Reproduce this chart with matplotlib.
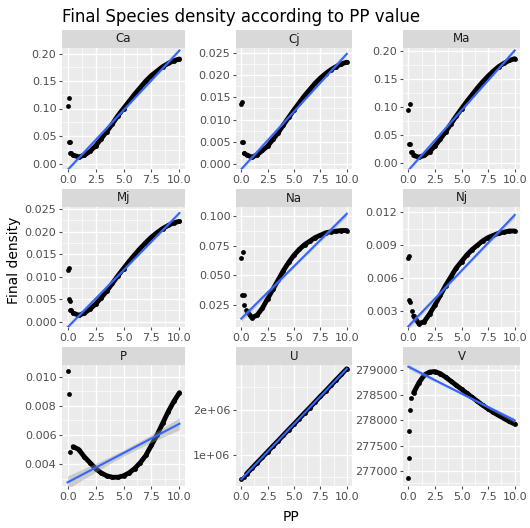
import numpy as np
import matplotlib
matplotlib.use("Agg")
import matplotlib.pyplot as plt

panels = ["Ca", "Cj", "Ma", "Mj", "Na", "Nj", "P", "U", "V"]
xs = [0.5, 1, 1.5, 2, 2.5, 3, 3.5, 4, 4.5, 5, 5.5, 6, 6.5, 7, 7.5, 8, 8.5, 9, 9.5, 10]
curves = {
 "Ca": [0.015,0.012,0.015,0.022,0.032,0.045,0.058,0.072,0.087,0.1,0.113,0.126,0.138,0.15,0.16,0.168,0.176,0.182,0.187,0.19],
 "Cj": [0.002,0.0015,0.002,0.003,0.004,0.0055,0.007,0.0088,0.0105,0.0122,0.0138,0.0154,0.0168,0.0182,0.0194,0.0204,0.0213,0.022,0.0226,0.023],
 "Ma": [0.014,0.011,0.014,0.021,0.031,0.043,0.056,0.07,0.084,0.097,0.11,0.122,0.134,0.145,0.155,0.164,0.172,0.178,0.183,0.186],
 "Mj": [0.0019,0.0014,0.0019,0.0028,0.0039,0.0053,0.0068,0.0085,0.0102,0.0118,0.0134,0.0149,0.0163,0.0176,0.0188,0.0198,0.0207,0.0214,0.022,0.0223],
 "Na": [0.02,0.014,0.016,0.022,0.03,0.038,0.046,0.054,0.061,0.067,0.072,0.076,0.079,0.082,0.084,0.086,0.087,0.0875,0.088,0.088],
 "Nj": [0.0025,0.0018,0.002,0.0027,0.0035,0.0044,0.0053,0.0061,0.0069,0.0075,0.0081,0.0086,0.009,0.0094,0.0097,0.0099,0.0101,0.0102,0.0103,0.0103],
 "P": [0.0052,0.005,0.0045,0.0041,0.0037,0.0034,0.0032,0.0031,0.0031,0.0032,0.0034,0.0037,0.0041,0.0046,0.0053,0.006,0.0068,0.0076,0.0083,0.0089],
 "U": [0.57e6,0.695e6,0.82e6,0.94e6,1.065e6,1.19e6,1.31e6,1.435e6,1.56e6,1.68e6,1.805e6,1.93e6,2.05e6,2.175e6,2.3e6,2.42e6,2.545e6,2.67e6,2.79e6,2.915e6],
 "V": [278550,278750,278900,278960,278970,278930,278860,278780,278700,278620,278540,278460,278380,278300,278230,278160,278100,278040,277980,277930],
}
early_x = {
 "Ca": [0,0.1,0.1,0.2,0.3,0.25], "Cj": [0,0.1,0.1,0.2,0.3,0.25], "Ma": [0,0.2,0.1,0.2,0.3,0.25],
 "Mj": [0,0.1,0.1,0.2,0.3,0.25], "Na": [0,0.2,0.1,0.3,0.25], "Nj": [0,0.1,0.1,0.2,0.3],
 "P": [0,0.1,0.25], "U": [0,0.25], "V": [0,0.05,0.1,0.15,0.25],
}
early_y = {
 "Ca": [0.105,0.12,0.04,0.04,0.02,0.02], "Cj": [0.0135,0.014,0.005,0.005,0.0025,0.0025],
 "Ma": [0.095,0.105,0.035,0.035,0.02,0.02], "Mj": [0.0115,0.012,0.005,0.0045,0.0025,0.0025],
 "Na": [0.065,0.07,0.033,0.033,0.025], "Nj": [0.0078,0.008,0.004,0.0038,0.003],
 "P": [0.0104,0.0088,0.0048], "U": [0.45e6,0.51e6], "V": [276850,277250,277800,278200,278450],
}
ylims = {"Ca": (-0.01,0.21), "Cj": (-0.0012,0.0262), "Ma": (-0.01,0.205), "Mj": (-0.0012,0.0255),
 "Na": (0.006,0.108), "Nj": (0.0015,0.0125), "P": (0.0025,0.0108), "U": (0.3e6,3.0e6), "V": (276700,279100)}
yticks = {"Ca": [0,0.05,0.1,0.15,0.2], "Cj": [0,0.005,0.01,0.015,0.02,0.025], "Ma": [0,0.05,0.1,0.15,0.2],
 "Mj": [0,0.005,0.01,0.015,0.02,0.025], "Na": [0.025,0.05,0.075,0.1], "Nj": [0.003,0.006,0.009,0.012],
 "P": [0.004,0.006,0.008,0.01], "U": [1e6,2e6], "V": [277000,277500,278000,278500,279000]}
ylabels = {"Ca": ["0.00","0.05","0.10","0.15","0.20"], "Cj": ["0.000","0.005","0.010","0.015","0.020","0.025"],
 "Ma": ["0.00","0.05","0.10","0.15","0.20"], "Mj": ["0.000","0.005","0.010","0.015","0.020","0.025"],
 "Na": ["0.025","0.050","0.075","0.100"], "Nj": ["0.003","0.006","0.009","0.012"],
 "P": ["0.004","0.006","0.008","0.010"], "U": ["1e+06","2e+06"], "V": ["277000","277500","278000","278500","279000"]}

W, H = 530, 528
fig = plt.figure(figsize=(W/100, H/100), dpi=100)
cols = [(62,185),(236,352),(403,520)]
rows = [(30,48,169),(189,207,327),(347,365,486)]
grey = "#4D4D4D"
for i, name in enumerate(panels):
    c0, c1 = cols[i % 3]; s0, p0, p1 = rows[i // 3]
    sax = fig.add_axes([c0/W, 1-p0/H, (c1-c0)/W, (p0-s0)/H])
    sax.set_facecolor("#D9D9D9"); sax.set_xticks([]); sax.set_yticks([])
    for sp in sax.spines.values(): sp.set_visible(False)
    sax.text(0.5, 0.5, name, ha="center", va="center", fontsize=8.5, color="#1A1A1A", transform=sax.transAxes)
    ax = fig.add_axes([c0/W, 1-p1/H, (c1-c0)/W, (p1-p0)/H])
    ax.set_facecolor("#EBEBEB")
    for sp in ax.spines.values(): sp.set_visible(False)
    x = np.array(early_x[name] + xs); y = np.array(early_y[name] + curves[name])
    ax.plot(xs, curves[name], color="black", lw=3.5, zorder=2, solid_capstyle="round")
    ax.scatter(x, y, s=12, color="black", zorder=3, lw=0)
    # linear fit (on the main curve) with confidence band
    cx = np.array(xs); cy = np.array(curves[name])
    b, a = np.polyfit(cx, cy, 1)
    gx = np.linspace(0, 10, 80); gy = a + b*gx
    res = cy - (a + b*cx); n = len(cx); s = np.sqrt(np.sum(res**2)/(n-2))
    se = s*np.sqrt(1/n + (gx-cx.mean())**2/np.sum((cx-cx.mean())**2)) * 0.35
    ax.fill_between(gx, gy-2*se, gy+2*se, color="#999999", alpha=0.4, lw=0, zorder=4)
    ax.plot(gx, gy, color="#3366FF", lw=1.5, zorder=5)
    ax.set_xlim(-0.5, 10.5)
    ax.set_xticks([0,2.5,5,7.5,10]); ax.set_xticklabels(["0.0","2.5","5.0","7.5","10.0"])
    ax.set_xticks([1.25,3.75,6.25,8.75], minor=True)
    ax.set_yticks(yticks[name]); ax.set_yticklabels(ylabels[name])
    yt = yticks[name]; d = yt[1]-yt[0]
    ax.set_yticks([v+d/2 for v in [yt[0]-d]+yt], minor=True)
    ax.set_ylim(*ylims[name])
    ax.grid(which="major", color="white", lw=1.0)
    ax.grid(which="minor", color="white", lw=0.5)
    ax.set_axisbelow(True)
    ax.tick_params(which="major", labelsize=8, colors=grey, length=2.5, pad=1.5, labelcolor=grey)
    ax.tick_params(which="minor", length=0)
fig.text(62/W, 1-17/H, "Final Species density according to PP value", fontsize=12, va="center", ha="left")
fig.text(291/W, 1-517/H, "PP", fontsize=10, ha="center", va="center")
fig.text(14/W, 1-260/H, "Final density", fontsize=10, rotation=90, ha="center", va="center")
fig.savefig("out.png", dpi=100)
